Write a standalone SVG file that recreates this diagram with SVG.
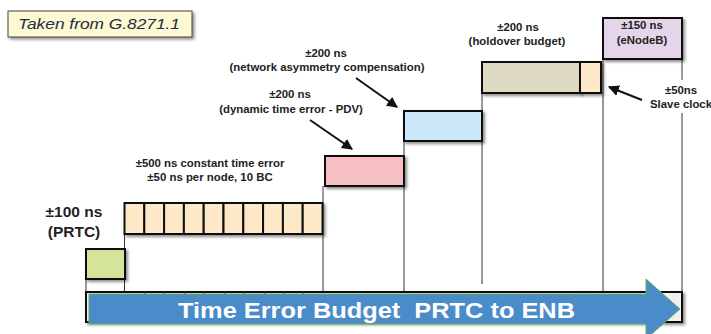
<svg xmlns="http://www.w3.org/2000/svg" width="711" height="334" viewBox="0 0 711 334">
<style>
.lbl{font-family:"Liberation Sans",Arial,sans-serif;font-weight:bold;fill:#222;text-anchor:middle}
.s{font-size:11.4px}
.box{stroke:#111;stroke-width:2}
.vl{stroke:#333;stroke-width:1;fill:none}
.arr{stroke:#111;stroke-width:2;fill:none;marker-end:url(#ah)}
.tk{stroke:#333;stroke-width:1}
</style>
<defs>
<filter id="sh" x="-20%" y="-20%" width="150%" height="160%">
<feDropShadow dx="2" dy="2" stdDeviation="1.5" flood-color="#000" flood-opacity="0.45"/>
</filter>
<marker id="ah" viewBox="0 0 10 10" refX="9" refY="5" markerWidth="5.5" markerHeight="5.5" orient="auto-start-reverse" markerUnits="strokeWidth">
<path d="M0,0 L10,5 L0,10 z" fill="#111"/>
</marker>
</defs>
<rect width="711" height="334" fill="#fff"/>

<g id="taken">
<rect x="8" y="11" width="184" height="26" fill="#fdf9d3" stroke="#444" stroke-width="1" filter="url(#sh)"/>
<text x="18" y="29" font-family="Liberation Sans,Arial,sans-serif" font-style="italic" font-size="15.5" fill="#1f2a44" textLength="162" lengthAdjust="spacingAndGlyphs">Taken from G.8271.1</text>
</g>

<g id="connectors">
<line class="vl" x1="86" y1="279" x2="86" y2="292"/>
<line class="vl" x1="124.5" y1="234" x2="124.5" y2="292"/>
<line class="vl" x1="323" y1="186" x2="323" y2="292"/>
<line class="vl" x1="404" y1="141" x2="404" y2="292"/>
<line class="vl" x1="482" y1="93" x2="482" y2="284"/>
<line class="vl" x1="603" y1="59" x2="603" y2="292"/>
<line class="vl" x1="682" y1="59" x2="682" y2="80"/>
<line class="vl" x1="682" y1="113" x2="682" y2="292"/>
<line class="arr" x1="356" y1="78" x2="397" y2="107"/>
<line class="arr" x1="310" y1="120" x2="352" y2="149"/>
<line class="arr" x1="642" y1="100" x2="609" y2="87"/>
</g>

<g id="bar">
<rect x="86" y="292" width="596" height="30" fill="#f0f0f0" stroke="#111" stroke-width="2" filter="url(#sh)"/>
<g class="tk">
<line x1="144.5" y1="292" x2="144.5" y2="296"/><line x1="164.5" y1="292" x2="164.5" y2="296"/>
<line x1="184.5" y1="292" x2="184.5" y2="296"/><line x1="204.5" y1="292" x2="204.5" y2="296"/>
<line x1="224.5" y1="292" x2="224.5" y2="296"/><line x1="244.5" y1="292" x2="244.5" y2="296"/>
<line x1="264.5" y1="292" x2="264.5" y2="296"/><line x1="284.5" y1="292" x2="284.5" y2="296"/>
<line x1="303.5" y1="292" x2="303.5" y2="296"/><line x1="584" y1="292" x2="584" y2="296"/>
</g>
</g>

<g id="arrow">
<polygon points="89,294 646,294 646,279 680,309 646,339 646,324 89,324" fill="#4a8bc9" stroke="#6ab04c" stroke-width="1"/>
<text x="178" y="318" font-family="Liberation Sans,Arial,sans-serif" font-weight="bold" font-size="22" fill="#fff" textLength="397" lengthAdjust="spacingAndGlyphs" style="white-space:pre">Time Error Budget  PRTC to ENB</text>
</g>

<g id="prtc">
<rect class="box" x="86" y="249" width="39" height="30" fill="#d4e49b" filter="url(#sh)"/>
<text class="lbl" x="74" y="217" font-size="15.5">±100 ns</text>
<text class="lbl" x="74" y="237" font-size="15.5">(PRTC)</text>
</g>

<g id="bc">
<g class="box" fill="#fde9c8" filter="url(#sh)">
<rect x="124.5" y="203" width="19.8" height="31"/>
<rect x="144.3" y="203" width="19.8" height="31"/>
<rect x="164.1" y="203" width="19.8" height="31"/>
<rect x="183.9" y="203" width="19.8" height="31"/>
<rect x="203.7" y="203" width="19.8" height="31"/>
<rect x="223.5" y="203" width="19.8" height="31"/>
<rect x="243.3" y="203" width="19.8" height="31"/>
<rect x="263.1" y="203" width="19.8" height="31"/>
<rect x="282.9" y="203" width="19.8" height="31"/>
<rect x="302.7" y="203" width="19.8" height="31"/>
</g>
<text class="lbl s" x="210" y="167">±500 ns constant time error</text>
<text class="lbl s" x="210" y="181">±50 ns per node, 10 BC</text>
</g>

<g id="pdv">
<rect class="box" x="325" y="156" width="79" height="30" fill="#f6bfc1" filter="url(#sh)"/>
<text class="lbl s" x="290" y="98">±200 ns</text>
<text class="lbl s" x="291" y="113">(dynamic time error - PDV)</text>
</g>

<g id="asym">
<rect class="box" x="404" y="111" width="78" height="30" fill="#cde8f8" filter="url(#sh)"/>
<text class="lbl s" x="326" y="57">±200 ns</text>
<text class="lbl s" x="327" y="71">(network asymmetry compensation)</text>
</g>

<g id="holdover">
<rect class="box" x="482" y="62" width="98" height="31" fill="#ddd9c3" filter="url(#sh)"/>
<text class="lbl s" x="518" y="31">±200 ns</text>
<text class="lbl s" x="517" y="45">(holdover budget)</text>
</g>

<g id="slave">
<rect class="box" x="580" y="62" width="21" height="31" fill="#fde9c8" filter="url(#sh)"/>
<text class="lbl s" x="681" y="94">±50ns</text>
<text class="lbl s" x="681" y="108">Slave clock</text>
</g>

<g id="enodeb">
<rect class="box" x="603" y="18" width="79" height="41" fill="#e5d5ea" filter="url(#sh)"/>
<text class="lbl s" x="642" y="29">±150 ns</text>
<text class="lbl s" x="642" y="44">(eNodeB)</text>
</g>
</svg>
